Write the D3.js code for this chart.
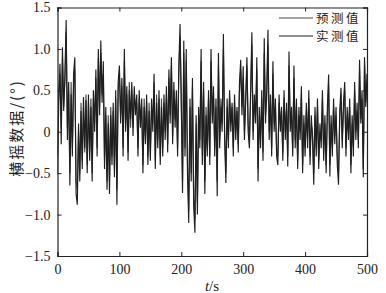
<!DOCTYPE html>
<html><head><meta charset="utf-8">
<script src="https://cdn.jsdelivr.net/npm/d3@7/dist/d3.min.js"></script>
<style>html,body{margin:0;padding:0;background:#fff;}svg{display:block;}</style>
</head><body>
<svg id="c" width="386" height="293"></svg>
<script>
const sampleInterval = 2; // s
const measured = [
-0.5,0.35,0.82,-0.15,1.02,0.25,0.7,1.35,-0.1,0.6,-0.65,0.45,-0.3,0.7,0.9,-0.75,-0.88,0.1,-0.6,0.25,-0.45,0.42,-0.2,0.38,-0.5,
0.45,-0.35,0.3,-0.6,0.5,0.0,0.75,-0.3,1.0,0.2,1.1,0.35,0.85,-0.45,0.3,-0.7,0.1,-0.75,0.2,-0.4,0.35,-0.55,0.5,-0.88,0.6,
0.8,0.1,0.65,-0.3,1.0,0.0,0.55,-0.35,0.5,0.15,0.6,-0.05,0.55,0.2,0.45,-0.3,0.5,0.05,0.4,-0.5,0.3,-0.15,0.45,-0.4,0.25,
-0.35,0.4,0.0,0.7,-0.45,0.35,-0.2,0.5,-0.4,0.3,-0.3,0.45,-0.1,0.55,-0.25,0.75,0.1,0.9,-0.15,0.6,0.05,0.5,-0.3,0.8,1.3,
0.3,-0.74,1.1,-0.3,1.0,-0.5,-1.1,0.4,-0.6,0.65,-0.9,-1.22,0.2,-1.0,0.3,-0.2,1.0,-0.4,0.6,-0.75,0.2,-0.3,0.5,-0.4,1.0,
0.1,0.55,-0.3,0.4,-0.78,0.95,-0.2,0.3,0.0,1.18,-0.1,-0.62,0.4,-0.2,0.5,0.0,0.35,-0.3,0.45,-0.1,0.3,-0.25,0.6,0.87,0.2,
0.79,-0.1,0.4,0.9,0.0,-0.2,0.5,1.2,-0.1,0.45,0.1,0.9,-0.6,0.3,-0.2,0.5,-0.35,1.13,0.1,0.5,1.23,-0.1,0.45,-0.3,0.85,
0.0,0.4,-0.3,-0.4,0.45,0.0,0.3,-0.35,0.5,-0.1,0.35,-0.42,0.97,0.0,0.3,-0.3,0.8,-0.2,0.4,-0.45,0.3,-0.1,0.55,-0.5,0.2,
-0.3,0.35,-0.2,0.5,-0.4,0.2,-0.1,-0.64,0.3,-0.3,0.4,-0.45,0.1,-0.2,0.5,-0.35,0.2,-0.5,0.3,0.69,-0.54,0.2,-0.3,0.4,-0.15,
0.3,-0.4,-0.64,0.25,0.53,-0.2,0.35,0.6,-0.3,0.3,-0.1,0.4,-0.5,0.2,-0.3,0.6,-0.1,0.35,-0.2,0.87,0.1,0.5,-0.55,0.9,0.3,0.7
];
const predicted = [
-0.3,0.5,0.7,0.05,0.9,0.3,0.6,1.2,0.05,0.5,-0.5,0.6,-0.2,0.55,0.75,-0.6,-0.7,0.0,-0.5,0.35,-0.35,0.3,-0.25,0.45,-0.4,
0.35,-0.25,0.4,-0.5,0.4,0.1,0.65,-0.2,0.9,0.3,0.95,0.45,0.7,-0.35,0.2,-0.6,0.2,-0.6,0.3,-0.3,0.25,-0.45,0.4,-0.7,0.5,
0.7,0.2,0.55,-0.2,0.85,0.1,0.45,-0.25,0.6,0.05,0.5,0.05,0.45,0.3,0.35,-0.2,0.4,0.15,0.3,-0.4,0.4,-0.05,0.35,-0.3,0.35,
-0.25,0.3,0.1,0.6,-0.35,0.45,-0.1,0.4,-0.3,0.4,-0.2,0.35,0.0,0.45,-0.15,0.65,0.2,0.8,-0.05,0.5,0.15,0.4,-0.2,0.7,1.15,
0.4,-0.6,0.95,-0.2,0.85,-0.4,-0.95,0.3,-0.5,0.55,-0.8,-1.05,0.1,-0.85,0.2,-0.1,0.85,-0.3,0.5,-0.6,0.3,-0.2,0.4,-0.3,0.85,
0.2,0.45,-0.2,0.3,-0.6,0.8,-0.1,0.4,0.1,1.0,0.0,-0.5,0.3,-0.1,0.4,0.1,0.3,-0.2,0.35,0.0,0.25,-0.15,0.5,0.75,0.3,
0.65,0.0,0.35,0.8,0.1,-0.1,0.4,1.05,0.0,0.35,0.2,0.75,-0.45,0.2,-0.1,0.4,-0.25,0.95,0.2,0.4,1.05,0.0,0.35,-0.2,0.7,
0.1,0.3,-0.2,-0.3,0.35,0.1,0.25,-0.25,0.4,0.0,0.25,-0.3,0.8,0.1,0.2,-0.2,0.65,-0.1,0.3,-0.35,0.2,0.0,0.45,-0.4,0.1,
-0.2,0.25,-0.1,0.4,-0.3,0.1,0.0,-0.5,0.2,-0.2,0.3,-0.35,0.0,-0.1,0.4,-0.25,0.1,-0.4,0.2,0.55,-0.4,0.1,-0.2,0.3,-0.05,
0.2,-0.3,-0.5,0.15,0.45,-0.1,0.25,0.5,-0.2,0.2,0.0,0.3,-0.4,0.1,-0.2,0.5,0.0,0.25,-0.1,0.75,0.15,0.4,-0.45,0.8,0.35,0.6
];
const xTicks = [0,100,200,300,400,500];
const yTicks = [-1.5,-1.0,-0.5,0,0.5,1.0,1.5];
const yTickLabels = ["\u22121.5","\u22121.0","\u22120.5","0","0.5","1.0","1.5"];
const seriesNames = ["预测值","实测值"];
const seriesColors = ["#4a4a4a","#1e1e1e"];

const svg = d3.select("#c");
const L = 57.5, R = 367, T = 7.5, B = 256;
const x = d3.scaleLinear().domain([0,500]).range([L,R]);
const y = d3.scaleLinear().domain([-1.5,1.5]).range([B,T]);
const serif = "'Liberation Serif','Times New Roman',serif";

const line = d3.line().x((d,i)=>x(i*sampleInterval)).y(d=>y(d));
svg.append("clipPath").attr("id","pc").append("rect").attr("x",L).attr("y",T).attr("width",R-L).attr("height",B-T);
const g = svg.append("g").attr("clip-path","url(#pc)");
[predicted, measured].forEach((s,k)=>{
  g.append("path").datum(s).attr("d",line).attr("fill","none")
   .attr("stroke",seriesColors[k]).attr("stroke-width",1.15).attr("stroke-linejoin","miter");
});

// axes (ticks inward, mirrored)
const tl = 4;
const ax = svg.append("g");
ax.append("g").attr("transform",`translate(0,${B})`)
  .call(d3.axisBottom(x).tickValues(xTicks).tickSize(-tl).tickPadding(8).tickFormat(d3.format("d")));
ax.append("g").attr("transform",`translate(0,${T})`)
  .call(d3.axisTop(x).tickValues(xTicks).tickSize(-tl).tickFormat(""));
ax.append("g").attr("transform",`translate(${L},0)`)
  .call(d3.axisLeft(y).tickValues(yTicks).tickSize(-tl).tickPadding(7).tickFormat((d,i)=>yTickLabels[i]));
ax.append("g").attr("transform",`translate(${R},0)`)
  .call(d3.axisRight(y).tickValues(yTicks).tickSize(-tl).tickFormat(""));
ax.selectAll(".domain").attr("stroke","#222").attr("stroke-width",1.2);
ax.selectAll(".tick line").attr("stroke","#222");
ax.selectAll("text").attr("font-family",serif).attr("font-size",14).attr("fill","#222");

// axis titles
const xt = svg.append("text").attr("x",212).attr("y",291).attr("text-anchor","middle")
  .attr("font-family",serif).attr("font-size",15).attr("fill","#222");
xt.append("tspan").attr("font-style","italic").text("t");
xt.append("tspan").text("/s");
svg.append("text").attr("transform","translate(22,128) rotate(-90)").attr("text-anchor","middle")
  .attr("font-family","'Noto Sans CJK SC',"+serif).attr("font-size",15).attr("letter-spacing",2).attr("fill","#222")
  .text("横摇数据/(°)");

// legend
const lg = svg.append("g");
seriesNames.forEach((n,i)=>{
  const yy = 18 + i*18;
  lg.append("line").attr("x1",279).attr("x2",313).attr("y1",yy).attr("y2",yy)
    .attr("stroke",seriesColors[i]).attr("stroke-width",1);
  lg.append("text").attr("x",316).attr("y",yy+4.5).attr("font-family","'Noto Sans CJK SC',"+serif)
    .attr("font-size",12.5).attr("letter-spacing",2.5).attr("fill","#222").text(n);
});
</script>
</body></html>
